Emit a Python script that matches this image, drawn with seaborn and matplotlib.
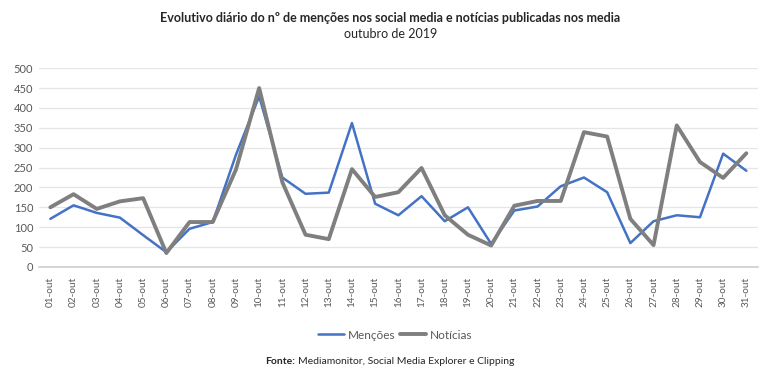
import pandas as pd
import matplotlib
matplotlib.use("Agg")
import matplotlib.pyplot as plt
import seaborn as sns

days = [f"{d:02d}-out" for d in range(1, 32)]
mencoes = [121, 155, 136, 124, 80, 37, 96, 113, 282, 429, 225, 184, 187, 362, 159,
           130, 178, 115, 150, 58, 142, 152, 203, 225, 188, 60, 115, 130, 125, 285, 242]
noticias = [150, 183, 146, 165, 173, 35, 113, 113, 245, 450, 213, 81, 70, 246, 176,
            188, 249, 130, 81, 54, 154, 166, 166, 339, 328, 121, 55, 356, 264, 224, 286]

TEXT = "#595959"

sns.set_theme(style="white")
plt.rcParams["font.family"] = ["Lato", "DejaVu Sans"]

df = pd.DataFrame({"dia": days, "Menções": mencoes, "Notícias": noticias})

fig = plt.figure(figsize=(7.75, 3.83), dpi=100)
ax = fig.add_axes([0.050, 0.303, 0.928, 0.519])

sns.lineplot(data=df, x="dia", y="Menções", ax=ax, color="#4472C4", linewidth=1.8, label="Menções")
sns.lineplot(data=df, x="dia", y="Notícias", ax=ax, color="#7F7F7F", linewidth=2.8, label="Notícias")

ax.set_xlim(-0.5, len(days) - 0.5)
ax.set_ylim(0, 500)
ax.set_yticks(range(0, 501, 50))
ax.grid(axis="y", color="#E6E6E6", linewidth=0.9)
ax.set_axisbelow(True)
for s in ["top", "right", "left"]:
    ax.spines[s].set_visible(False)
ax.spines["bottom"].set_color("#D0D0D0")
ax.set_xlabel("")
ax.set_ylabel("")
ax.tick_params(axis="x", labelrotation=90, labelsize=7.2, colors=TEXT, length=0, pad=7)
ax.tick_params(axis="y", labelsize=8, colors=TEXT, length=0, pad=4)

ax.get_legend().remove()
h, l = ax.get_legend_handles_labels()
leg = fig.legend(h, l, loc="center", bbox_to_anchor=(0.51, 0.125), ncol=2, frameon=False,
                 fontsize=8.5, handlelength=2.2, columnspacing=0.4, handletextpad=0.3)
for t in leg.get_texts():
    t.set_color(TEXT)

fig.text(0.504, 0.953, "Evolutivo diário do nº de menções nos social media e notícias publicadas nos media",
         ha="center", va="center", fontsize=9, fontweight="bold", color="#262626")
fig.text(0.504, 0.911, "outubro de 2019", ha="center", va="center", fontsize=9, color="#262626")

fig.text(295 / 775, 1 - 362 / 383, "Fonte:", ha="right", va="center", fontsize=7.5,
         fontweight="bold", color="#262626")
fig.text(298 / 775, 1 - 362 / 383, "Mediamonitor, Social Media Explorer e Clipping", ha="left",
         va="center", fontsize=7.5, color="#262626")

fig.savefig("out.png", dpi=100)
